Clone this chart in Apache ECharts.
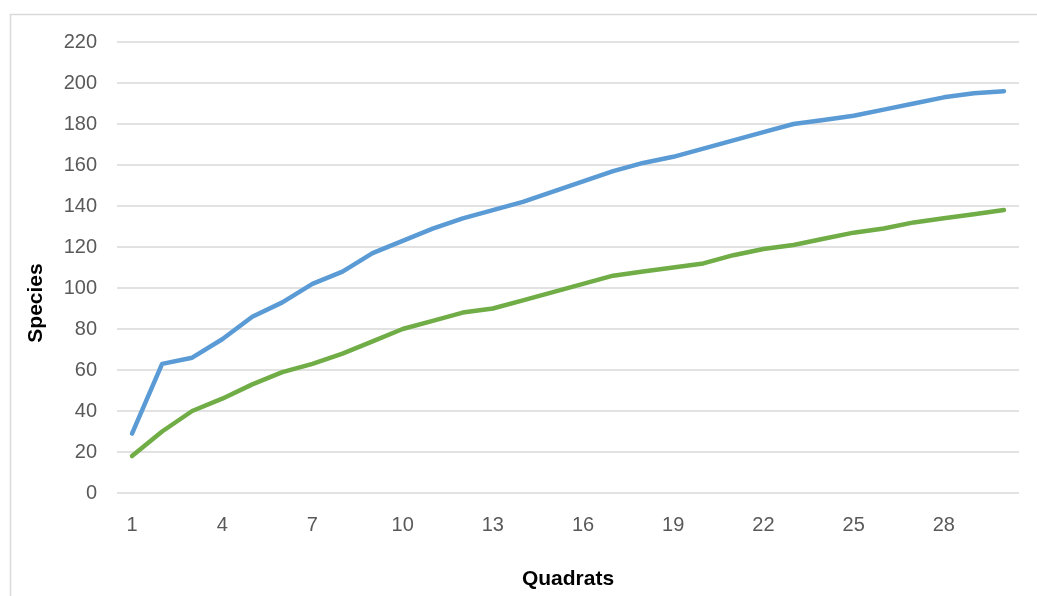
<!DOCTYPE html>
<html>
<head>
<meta charset="utf-8">
<script src="https://cdn.jsdelivr.net/npm/echarts@6/dist/echarts.min.js"></script>
<style>
html,body{margin:0;padding:0;background:#fff;}
#c{width:1037px;height:596px;}
</style>
</head>
<body>
<div id="c"></div>
<script>
const quadrats = Array.from({length: 30}, (_, i) => String(i + 1));
const blueSeries = [29, 63, 66, 75, 86, 93, 102, 108, 117, 123, 129, 134, 138, 142, 147, 152, 157, 161, 164, 168, 172, 176, 180, 182, 184, 187, 190, 193, 195, 196];
const greenSeries = [18, 30, 40, 46, 53, 59, 63, 68, 74, 80, 84, 88, 90, 94, 98, 102, 106, 108, 110, 112, 116, 119, 121, 124, 127, 129, 132, 134, 136, 138];
const yTicks = [0, 20, 40, 60, 80, 100, 120, 140, 160, 180, 200, 220];

const chart = echarts.init(document.getElementById('c'));
const font = '"Liberation Sans", Arial, sans-serif';
chart.setOption({
  animation: false,
  backgroundColor: '#fff',
  graphic: [{
    type: 'rect', left: 8, top: 12, silent: true,
    shape: {width: 1100, height: 700},
    style: {fill: 'none', stroke: '#d9d9d9', lineWidth: 1.5}
  }, {
    type: 'text', x: 36, y: 303, rotation: Math.PI / 2, silent: true,
    style: {
      text: 'Species', fontFamily: font, fontSize: 21, fontWeight: 'bold',
      fill: '#000', align: 'center', verticalAlign: 'middle'
    }
  }],
  grid: {left: 117, right: 18, top: 42, bottom: 103, containLabel: false},
  xAxis: {
    type: 'category',
    data: quadrats,
    boundaryGap: true,
    name: 'Quadrats',
    nameLocation: 'middle',
    nameGap: 76,
    nameTextStyle: {fontFamily: font, fontSize: 21, fontWeight: 'bold', color: '#000'},
    axisLine: {show: false},
    axisTick: {show: false},
    axisLabel: {
      interval: 2, margin: 22,
      fontFamily: font, fontSize: 20, color: '#595959'
    },
    splitLine: {show: false}
  },
  yAxis: {
    type: 'value',
    min: yTicks[0], max: yTicks[yTicks.length - 1], interval: 20,
    axisLine: {show: false},
    axisTick: {show: false},
    axisLabel: {margin: 20, fontFamily: font, fontSize: 20, color: '#595959'},
    splitLine: {show: true, lineStyle: {color: '#d9d9d9', width: 1.5}}
  },
  series: [
    {
      type: 'line', data: blueSeries, symbol: 'none',
      lineStyle: {color: '#5B9BD5', width: 4.5, cap: 'round', join: 'round'},
      itemStyle: {color: '#5B9BD5'}
    },
    {
      type: 'line', data: greenSeries, symbol: 'none',
      lineStyle: {color: '#70AD47', width: 4.5, cap: 'round', join: 'round'},
      itemStyle: {color: '#70AD47'}
    }
  ]
});
</script>
</body>
</html>
